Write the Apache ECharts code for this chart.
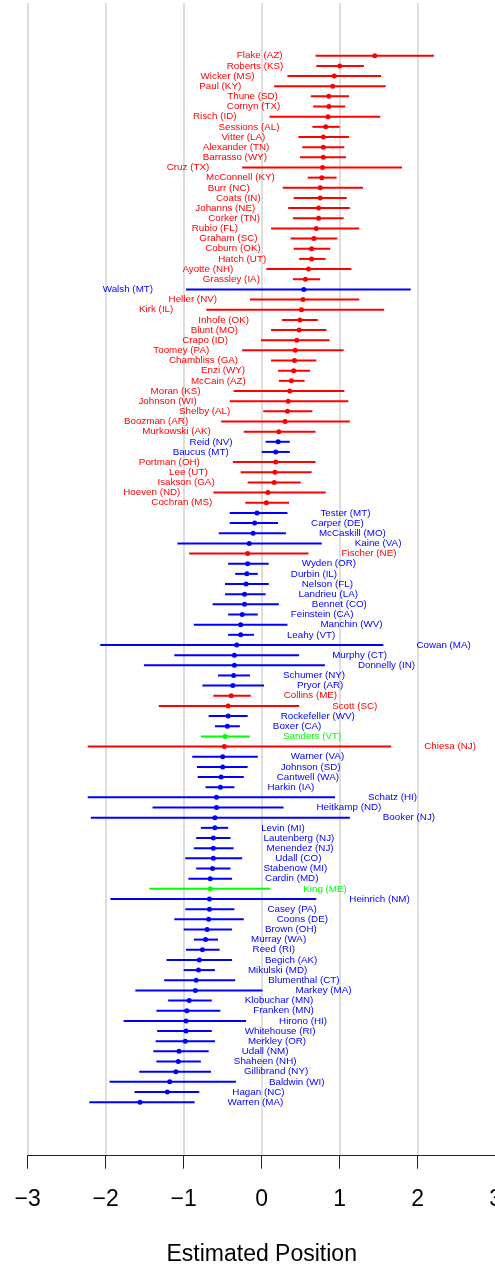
<!DOCTYPE html>
<html>
<head>
<meta charset="utf-8">
<script src="https://cdn.jsdelivr.net/npm/echarts@6/dist/echarts.min.js"></script>
<style>
  html, body { margin: 0; padding: 0; background: #fff; }
  #chart { width: 495px; height: 1270px; }
</style>
</head>
<body>
<div id="chart"></div>
<script>
// senators, top to bottom
var senators = [
  'Flake (AZ)', 'Roberts (KS)', 'Wicker (MS)', 'Paul (KY)', 'Thune (SD)', 'Cornyn (TX)', 'Risch (ID)',
  'Sessions (AL)', 'Vitter (LA)', 'Alexander (TN)', 'Barrasso (WY)', 'Cruz (TX)', 'McConnell (KY)',
  'Burr (NC)', 'Coats (IN)', 'Johanns (NE)', 'Corker (TN)', 'Rubio (FL)', 'Graham (SC)', 'Coburn (OK)',
  'Hatch (UT)', 'Ayotte (NH)', 'Grassley (IA)', 'Walsh (MT)', 'Heller (NV)', 'Kirk (IL)', 'Inhofe (OK)',
  'Blunt (MO)', 'Crapo (ID)', 'Toomey (PA)', 'Chambliss (GA)', 'Enzi (WY)', 'McCain (AZ)', 'Moran (KS)',
  'Johnson (WI)', 'Shelby (AL)', 'Boozman (AR)', 'Murkowski (AK)', 'Reid (NV)', 'Baucus (MT)',
  'Portman (OH)', 'Lee (UT)', 'Isakson (GA)', 'Hoeven (ND)', 'Cochran (MS)', 'Tester (MT)', 'Carper (DE)',
  'McCaskill (MO)', 'Kaine (VA)', 'Fischer (NE)', 'Wyden (OR)', 'Durbin (IL)', 'Nelson (FL)',
  'Landrieu (LA)', 'Bennet (CO)', 'Feinstein (CA)', 'Manchin (WV)', 'Leahy (VT)', 'Cowan (MA)',
  'Murphy (CT)', 'Donnelly (IN)', 'Schumer (NY)', 'Pryor (AR)', 'Collins (ME)', 'Scott (SC)',
  'Rockefeller (WV)', 'Boxer (CA)', 'Sanders (VT)', 'Chiesa (NJ)', 'Warner (VA)', 'Johnson (SD)',
  'Cantwell (WA)', 'Harkin (IA)', 'Schatz (HI)', 'Heitkamp (ND)', 'Booker (NJ)', 'Levin (MI)',
  'Lautenberg (NJ)', 'Menendez (NJ)', 'Udall (CO)', 'Stabenow (MI)', 'Cardin (MD)', 'King (ME)',
  'Heinrich (NM)', 'Casey (PA)', 'Coons (DE)', 'Brown (OH)', 'Murray (WA)', 'Reed (RI)', 'Begich (AK)',
  'Mikulski (MD)', 'Blumenthal (CT)', 'Markey (MA)', 'Klobuchar (MN)', 'Franken (MN)', 'Hirono (HI)',
  'Whitehouse (RI)', 'Merkley (OR)', 'Udall (NM)', 'Shaheen (NH)', 'Gillibrand (NY)', 'Baldwin (WI)',
  'Hagan (NC)', 'Warren (MA)'
];

var parties = [
  'R','R','R','R','R','R','R','R','R','R','R','R','R','R','R','R','R','R','R','R','R','R','R',
  'D',
  'R','R','R','R','R','R','R','R','R','R','R','R','R','R',
  'D','D',
  'R','R','R','R','R',
  'D','D','D','D',
  'R',
  'D','D','D','D','D','D','D','D','D','D','D','D','D',
  'R','R',
  'D','D',
  'I',
  'R',
  'D','D','D','D','D','D','D','D','D','D','D','D','D',
  'I',
  'D','D','D','D','D','D','D','D','D','D','D','D','D','D','D','D','D','D','D','D','D'
];

var estimates = [
  1.45, 1.00, 0.93, 0.91, 0.86, 0.86, 0.85, 0.82, 0.79, 0.79, 0.79, 0.78, 0.77, 0.75, 0.75, 0.73,
  0.73, 0.70, 0.67, 0.64, 0.64, 0.60, 0.56, 0.54, 0.53, 0.51, 0.49, 0.48, 0.45, 0.43, 0.42, 0.41,
  0.38, 0.36, 0.34, 0.33, 0.30, 0.22, 0.21, 0.18, 0.18, 0.17, 0.16, 0.08, 0.06, -0.06, -0.09, -0.11,
  -0.16, -0.18, -0.18, -0.19, -0.20, -0.22, -0.22, -0.25, -0.27, -0.27, -0.32, -0.35, -0.35, -0.36,
  -0.37, -0.39, -0.43, -0.43, -0.44, -0.47, -0.48, -0.50, -0.50, -0.52, -0.53, -0.58, -0.58, -0.60,
  -0.60, -0.62, -0.62, -0.62, -0.63, -0.66, -0.66, -0.67, -0.67, -0.68, -0.70, -0.72, -0.76, -0.80,
  -0.81, -0.84, -0.85, -0.93, -0.96, -0.97, -0.97, -0.98, -1.06, -1.07, -1.10, -1.18, -1.21, -1.56
];

var lower = [
  0.69, 0.70, 0.33, 0.16, 0.63, 0.66, 0.10, 0.65, 0.47, 0.52, 0.49, -0.25, 0.59, 0.27, 0.41, 0.34,
  0.40, 0.12, 0.37, 0.41, 0.48, 0.06, 0.40, -0.97, -0.15, -0.71, 0.26, 0.12, -0.01, -0.25, 0.12, 0.21,
  0.22, -0.36, -0.41, 0.02, -0.52, -0.23, 0.05, 0.00, -0.37, -0.27, -0.18, -0.62, -0.21, -0.41, -0.41,
  -0.55, -1.08, -0.93, -0.43, -0.34, -0.47, -0.47, -0.63, -0.43, -0.87, -0.43, -2.07, -1.12, -1.51,
  -0.56, -0.76, -0.62, -1.32, -0.68, -0.60, -0.78, -2.23, -0.89, -0.83, -0.82, -0.72, -2.23, -1.40,
  -2.19, -0.78, -0.84, -0.87, -0.98, -0.84, -0.94, -1.44, -1.94, -0.98, -1.12, -1.00, -0.87, -0.97,
  -1.22, -1.00, -1.25, -1.62, -1.20, -1.35, -1.77, -1.34, -1.36, -1.39, -1.35, -1.57, -1.95, -1.63, -2.21
];

var upper = [
  2.21, 1.31, 1.53, 1.59, 1.12, 1.07, 1.52, 1.00, 1.12, 1.06, 1.08, 1.80, 0.96, 1.30, 1.09, 1.13,
  1.05, 1.25, 0.97, 0.88, 0.82, 1.15, 0.75, 1.91, 1.25, 1.57, 0.72, 0.83, 0.87, 1.05, 0.70, 0.62,
  0.55, 1.06, 1.11, 0.65, 1.13, 0.69, 0.36, 0.36, 0.69, 0.64, 0.50, 0.82, 0.35, 0.33, 0.21, 0.31,
  0.77, 0.60, 0.09, -0.05, 0.09, 0.05, 0.22, -0.05, 0.33, -0.10, 1.56, 0.48, 0.81, -0.15, 0.03, -0.14,
  0.48, -0.18, -0.28, -0.15, 1.66, -0.05, -0.18, -0.23, -0.35, 0.94, 0.28, 1.13, -0.43, -0.40, -0.36,
  -0.25, -0.40, -0.38, 0.11, 0.70, -0.35, -0.23, -0.38, -0.56, -0.54, -0.38, -0.60, -0.34, 0.01,
  -0.64, -0.53, -0.20, -0.64, -0.60, -0.68, -0.78, -0.65, -0.33, -0.80, -0.86
];

var xTicks = [-3, -2, -1, 0, 1, 2, 3];

var partyColor = { R: '#ff0000', D: '#0000ff', I: '#00ff00' };
var FONT = '"Liberation Sans", Arial, Helvetica, sans-serif';

var rows = estimates.map(function (v, i) {
  return [v, lower[i], upper[i], i + 1];
});

var myChart = echarts.init(document.getElementById('chart'));

function renderRow(params, api) {
  var i = params.dataIndex;
  var row = api.value(3);
  var pEst = api.coord([api.value(0), row]);
  var pLo = api.coord([api.value(1), row]);
  var pHi = api.coord([api.value(2), row]);
  var color = partyColor[parties[i]];
  var onLeft = api.value(0) > 0;
  return {
    type: 'group',
    children: [
      {
        type: 'line',
        shape: { x1: pLo[0], y1: pLo[1], x2: pHi[0], y2: pHi[1] },
        style: { stroke: color, lineWidth: 2 }
      },
      {
        type: 'circle',
        shape: { cx: pEst[0], cy: pEst[1], r: 2.5 },
        style: { fill: color }
      },
      {
        type: 'text',
        style: {
          text: senators[i],
          x: onLeft ? pLo[0] - 33 : pHi[0] + 33,
          y: pEst[1],
          align: onLeft ? 'right' : 'left',
          verticalAlign: 'middle',
          fill: color,
          fontSize: 9.8,
          fontFamily: FONT
        }
      }
    ]
  };
}

var option = {
  animation: false,
  backgroundColor: '#ffffff',
  grid: {
    left: 27.7, width: 468, top: 3, bottom: 114.3,
    containLabel: false,
    outerBoundsMode: 'none'
  },
  xAxis: {
    type: 'value',
    min: xTicks[0],
    max: xTicks[xTicks.length - 1],
    interval: 1,
    name: 'Estimated Position',
    nameLocation: 'middle',
    nameGap: 87,
    nameTextStyle: { color: '#000', fontSize: 23, fontFamily: FONT },
    axisLine: { show: true, onZero: false, lineStyle: { color: '#222', width: 1 } },
    axisTick: { show: true, length: 13, lineStyle: { color: '#222', width: 1 } },
    axisLabel: {
      color: '#000',
      fontSize: 23,
      fontFamily: FONT,
      margin: 32,
      hideOverlap: false,
      formatter: function (v) { return v < 0 ? '\u2212' + Math.abs(v) : String(v); }
    },
    splitLine: { show: true, lineStyle: { color: '#d9d9d9', width: 1.7 } }
  },
  yAxis: {
    type: 'value',
    inverse: true,
    min: -4.19,
    max: 109.27,
    show: false,
    splitLine: { show: false }
  },
  series: [
    {
      type: 'custom',
      renderItem: renderRow,
      encode: { x: [0, 1, 2], y: 3 },
      data: rows,
      clip: false
    }
  ]
};

myChart.setOption(option);
</script>
</body>
</html>
